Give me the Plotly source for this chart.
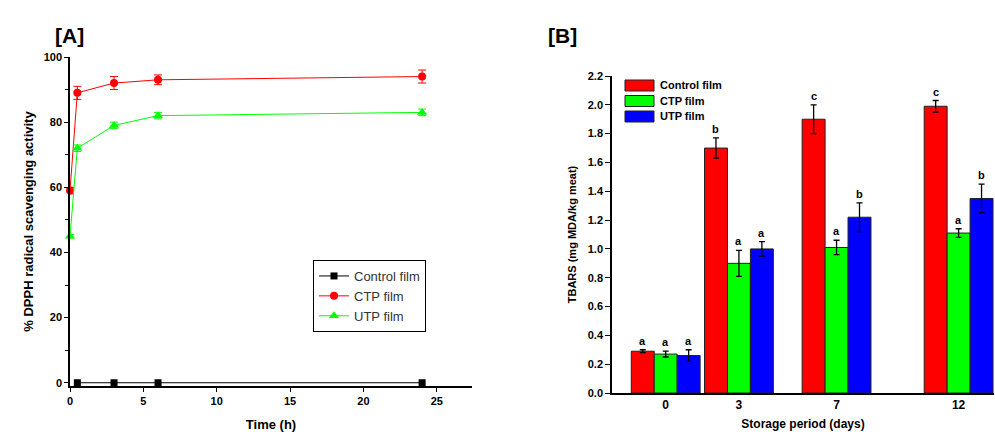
import plotly.graph_objects as go

# ---------------- Panel A data ----------------
time_h = [0, 0.5, 3, 6, 24]
control_dpph = [0, 0, 0, 0, 0]
ctp_dpph = [59, 89, 92, 93, 94]
ctp_dpph_err = [1, 2, 2, 1.5, 2]
utp_dpph = [45, 72, 79, 82, 83]
utp_dpph_err = [0.5, 1, 1, 1, 1]

# ---------------- Panel B data ----------------
days = [0, 3, 7, 12]
day_labels = ["0", "3", "7", "12"]
control_tbars = [0.29, 1.70, 1.90, 1.99]
control_err = [0.01, 0.07, 0.10, 0.04]
control_letters = ["a", "b", "c", "c"]
ctp_tbars = [0.27, 0.90, 1.01, 1.11]
ctp_err = [0.02, 0.09, 0.05, 0.03]
ctp_letters = ["a", "a", "a", "a"]
utp_tbars = [0.26, 1.00, 1.22, 1.35]
utp_err = [0.04, 0.05, 0.10, 0.10]
utp_letters = ["a", "a", "b", "b"]

FONT = "Liberation Sans"
W, H = 995, 436

def px_x(p):
    return p / W

def px_y(p):
    return 1 - p / H

fig = go.Figure()

# Panel A traces
fig.add_trace(go.Scatter(
    x=time_h[1:], y=control_dpph[1:], name="Control film", mode="lines+markers",
    line=dict(color="black", width=1), marker=dict(symbol="square", size=7, color="black"),
    xaxis="x", yaxis="y", legend="legend", cliponaxis=False))
fig.add_trace(go.Scatter(
    x=time_h, y=ctp_dpph, name="CTP film", mode="lines+markers",
    line=dict(color="#FF0000", width=1), marker=dict(symbol="circle", size=8, color="#FF0000"),
    error_y=dict(type="data", array=ctp_dpph_err, color="#FF0000", thickness=1, width=4),
    xaxis="x", yaxis="y", legend="legend", cliponaxis=False))
fig.add_trace(go.Scatter(
    x=time_h, y=utp_dpph, name="UTP film", mode="lines+markers",
    line=dict(color="#00FF00", width=1), marker=dict(symbol="triangle-up", size=9, color="#00FF00"),
    error_y=dict(type="data", array=utp_dpph_err, color="#00FF00", thickness=1, width=4),
    xaxis="x", yaxis="y", legend="legend", cliponaxis=False))

# Panel B traces
bar_w = 0.94
series_b = [
    ("Control film", control_tbars, control_err, control_letters, "#FF0000"),
    ("CTP film", ctp_tbars, ctp_err, ctp_letters, "#00FF00"),
    ("UTP film", utp_tbars, utp_err, utp_letters, "#0000FF"),
]
annotations = []
shapes = []
leg_left, leg_top, leg_row, sw_w, sw_h = 625, 80, 15.5, 29, 11
for i, (name, vals, errs, letters, col) in enumerate(series_b):
    off = (i - 1.5) * bar_w
    fig.add_trace(go.Bar(
        x=days, y=vals, name=name, width=bar_w, offset=off,
        marker=dict(color=col, line=dict(color="#222222", width=1)),
        error_y=dict(type="data", array=errs, color="black", thickness=1.3, width=3),
        xaxis="x2", yaxis="y2", showlegend=False))
    for d, v, e, t in zip(days, vals, errs, letters):
        annotations.append(dict(
            x=d + off + bar_w / 2, y=v + e, xref="x2", yref="y2", text=t,
            showarrow=False, yanchor="bottom", yshift=1,
            font=dict(family=FONT, size=11, color="black", weight="bold")))
    # legend entry for panel B (swatch + label)
    top = leg_top + i * leg_row
    shapes.append(dict(type="rect", xref="paper", yref="paper",
                       x0=px_x(leg_left), x1=px_x(leg_left + sw_w),
                       y0=px_y(top + sw_h), y1=px_y(top),
                       fillcolor=col, line=dict(color="#222222", width=1)))
    annotations.append(dict(x=px_x(leg_left + sw_w + 4), y=px_y(top + sw_h / 2),
                            xref="paper", yref="paper", text=name, showarrow=False,
                            xanchor="left", yanchor="middle",
                            font=dict(family=FONT, size=11, color="black", weight="bold")))

annotations.append(dict(x=px_x(53), y=px_y(22), xref="paper", yref="paper", text="[A]",
                        showarrow=False, font=dict(family=FONT, size=21, color="black", weight="bold")))
annotations.append(dict(x=px_x(562), y=px_y(22), xref="paper", yref="paper", text="[B]",
                        showarrow=False, font=dict(family=FONT, size=21, color="black", weight="bold")))

tickfont = dict(family=FONT, size=11, color="black", weight="bold")

fig.update_layout(
    width=W, height=H, margin=dict(l=0, r=0, t=0, b=0, autoexpand=False),
    paper_bgcolor="white", plot_bgcolor="white",
    font=dict(family=FONT, color="black"),
    xaxis=dict(domain=[px_x(70), px_x(472)], range=[0, 27.4], dtick=5, tick0=0,
               showgrid=False, zeroline=False, showline=True, linecolor="black", linewidth=1.5,
               ticks="outside", ticklen=4, tickcolor="black", tickfont=tickfont, automargin=False,
               title=dict(text="Time (h)", standoff=14,
                          font=dict(family=FONT, size=13, color="black", weight="bold")),
               anchor="y"),
    yaxis=dict(domain=[px_y(386), px_y(57)], range=[-1, 100], dtick=20, tick0=0,
               showgrid=False, zeroline=False, showline=True, linecolor="black", linewidth=1.5,
               ticks="outside", ticklen=4, tickcolor="black", tickfont=tickfont, automargin=False,
               minor=dict(dtick=10, ticks="outside", ticklen=3, tickcolor="black", showgrid=False),
               title=dict(text="% DPPH radical scavenging activity", standoff=7,
                          font=dict(family=FONT, size=13, color="black", weight="bold")),
               anchor="x"),
    xaxis2=dict(domain=[px_x(612), px_x(994)], range=[-2.2, 13.45],
                tickvals=days, ticktext=day_labels, automargin=False,
                showgrid=False, zeroline=False, showline=True, linecolor="black", linewidth=1.5,
                ticks="", tickfont=dict(family=FONT, size=12, color="black", weight="bold"),
                title=dict(text="Storage period (days)", standoff=8,
                           font=dict(family=FONT, size=12, color="black", weight="bold")),
                anchor="y2"),
    yaxis2=dict(domain=[px_y(393), px_y(76)], range=[0, 2.2], dtick=0.2, tick0=0, tickformat=".1f",
                showgrid=False, zeroline=False, showline=True, linecolor="black", linewidth=1.5,
                ticks="outside", ticklen=5, tickcolor="black", tickfont=tickfont, automargin=False,
                title=dict(text="TBARS (mg MDA/kg meat)", standoff=9,
                           font=dict(family=FONT, size=11, color="black", weight="bold")),
                anchor="x2"),
    legend=dict(x=px_x(313), y=px_y(260), xanchor="left", yanchor="top",
                bgcolor="white", bordercolor="black", borderwidth=1,
                font=dict(family=FONT, size=13, color="#333333"), tracegroupgap=0),
    annotations=annotations,
    shapes=shapes,
    showlegend=True,
)

fig.write_html(
    "out.html",
    config={"displayModeBar": False},
    post_script="document.body.style.margin='0';document.body.style.padding='0';"
                "document.body.style.overflow='hidden';",
)
